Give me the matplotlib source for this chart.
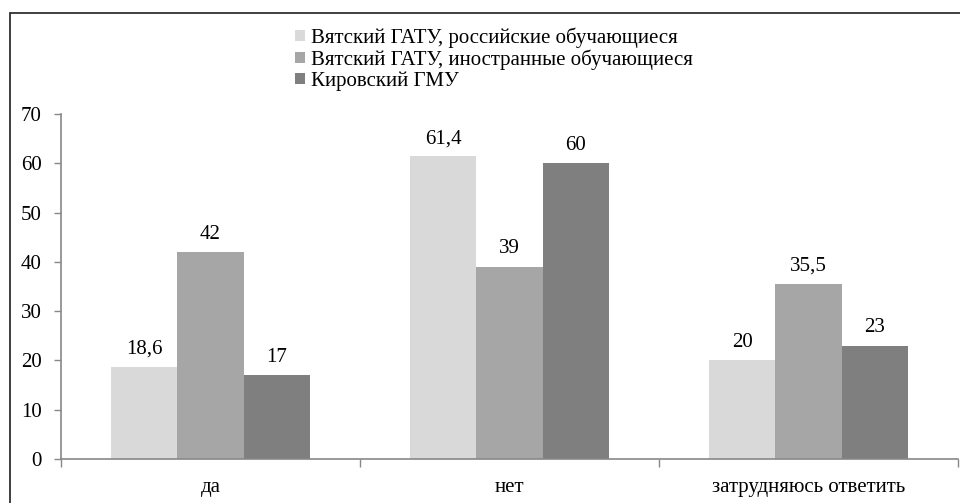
import matplotlib.pyplot as plt
import numpy as np
from matplotlib.patches import Rectangle
from matplotlib.font_manager import FontProperties

categories = ['да', 'нет', 'затрудняюсь ответить']
series_names = ['Вятский ГАТУ, российские обучающиеся',
                'Вятский ГАТУ, иностранные обучающиеся',
                'Кировский ГМУ']
values = [
    [18.6, 61.4, 20],
    [42, 39, 35.5],
    [17, 60, 23],
]
labels = [
    ['18,6', '61,4', '20'],
    ['42', '39', '35,5'],
    ['17', '60', '23'],
]
colors = ['#d9d9d9', '#a6a6a6', '#7f7f7f']
y_ticks = [0, 10, 20, 30, 40, 50, 60, 70]

plt.rcParams['font.family'] = ['Liberation Serif', 'DejaVu Serif']
plt.rcParams['font.size'] = 15

fig = plt.figure(figsize=(9.6, 5.03), dpi=100)
ax = fig.add_axes([61 / 960, 1 - 459 / 503, 897 / 960, 345 / 503])

# outer frame of the figure
fig.patches.append(Rectangle((10 / 960, -0.1), 1.1, 1 - 13 / 503 + 0.1,
                             transform=fig.transFigure, fill=False,
                             edgecolor='#303030', linewidth=1.3))

x = np.arange(len(categories))
width = 0.222
for i, (vals, name) in enumerate(zip(values, series_names)):
    pos = x + (i - 1) * width
    ax.bar(pos, vals, width, color=colors[i], label=name)
    for p, v, lab in zip(pos, vals, labels[i]):
        ax.annotate(lab, (p, v), xytext=(0, 6), textcoords='offset points',
                    ha='center', va='bottom', fontsize=15)

ax.set_xlim(-0.5, len(categories) - 0.5)
ax.set_ylim(0, 70)
ax.set_yticks(y_ticks)
ax.set_xticks(x)
ax.set_xticklabels(categories)
ax.set_xticks(np.arange(len(categories) + 1) - 0.5, minor=True)
ax.tick_params(axis='x', which='major', length=0, pad=14)
ax.tick_params(axis='x', which='minor', length=6, color='#888888', width=1)
ax.tick_params(axis='y', length=5, color='#888888', width=1, pad=9)

for s in ['top', 'right']:
    ax.spines[s].set_visible(False)
for s in ['left', 'bottom']:
    ax.spines[s].set_color('#888888')
    ax.spines[s].set_linewidth(1.2)

fig.legend(loc='upper left', bbox_to_anchor=(287 / 960, 1 - 19 / 503),
           frameon=False, handlelength=0.45, handleheight=0.45,
           handletextpad=0.3, labelspacing=0.08,
           prop=FontProperties(family='Liberation Serif', size=15),
           borderaxespad=0)

fig.savefig('out.png', dpi=100)
